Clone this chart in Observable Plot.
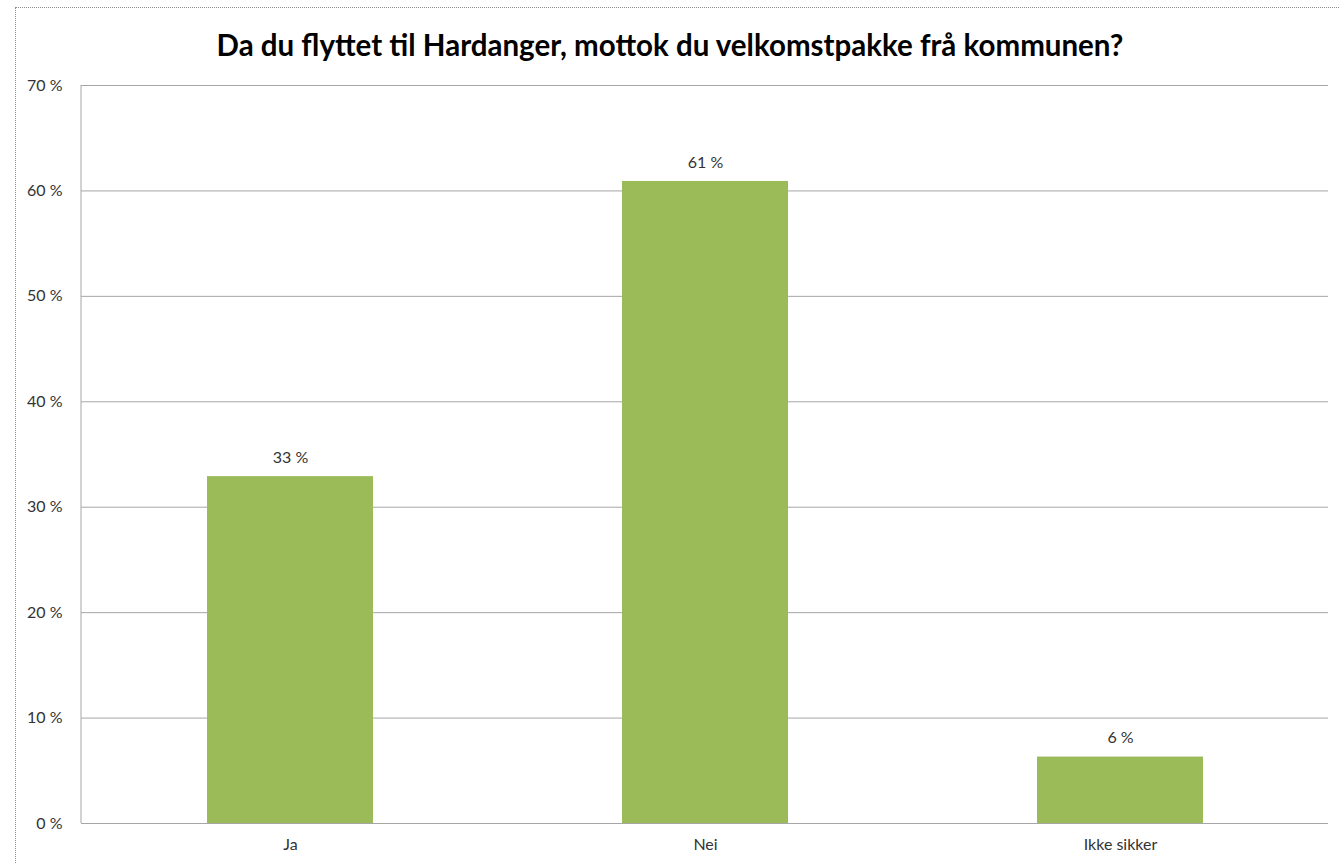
<!DOCTYPE html>
<html>
<head>
<meta charset="utf-8">
<script src="https://cdn.jsdelivr.net/npm/d3@7"></script>
<script src="https://cdn.jsdelivr.net/npm/@observablehq/plot@0.6"></script>
<style>
  html, body { margin: 0; padding: 0; background: #fff; overflow: hidden; }
  #wrap { position: relative; width: 1340px; height: 864px; }
  #frame { position: absolute; left: 15px; top: 7px; width: 1340px; height: 900px; border: 1px dotted #8a8a8a; box-sizing: border-box; }
  #title { position: absolute; left: 0; top: 25px; width: 1340px; text-align: center; font-family: Lato, "Open Sans", sans-serif; font-weight: bold; font-size: 29.5px; color: #000; line-height: 40px; }
  #chart { position: absolute; left: 0; top: 70px; }
</style>
</head>
<body>
<div id="wrap">
  <div id="frame"></div>
  <div id="title">Da du flyttet til Hardanger, mottok du velkomstpakke frå kommunen?</div>
  <div id="chart"></div>
</div>
<script>
const categories = ["Ja", "Nei", "Ikke sikker"];
const values = [32.9, 60.9, 6.3];
const yTicks = [0, 10, 20, 30, 40, 50, 60, 70];

const data = categories.map((c, i) => ({ category: c, value: values[i] }));
const pct = v => `${Math.round(v)} %`;

const plot = Plot.plot({
  width: 1340,
  height: 794,
  marginTop: 15,
  marginBottom: 41,
  marginLeft: 81,
  marginRight: 12,
  style: { fontFamily: "Lato, 'Open Sans', sans-serif", fontSize: "16px", color: "#333", background: "transparent" },
  x: { domain: categories, paddingInner: 0.6, paddingOuter: 0.3, label: null, tickSize: 0, tickPadding: 16 },
  y: { domain: [0, 70], ticks: yTicks, label: null, tickSize: 0, tickPadding: 19, tickFormat: d => `${d} %` },
  marks: [
    Plot.gridY(yTicks, { stroke: "#a6a6a6", strokeOpacity: 1, strokeWidth: 1 }),
    Plot.barY(data, { x: "category", y: "value", fill: "#9BBB59" }),
    Plot.text(data, { x: "category", y: "value", text: d => pct(d.value), dy: -19, fill: "#333", fontSize: 16 }),
    Plot.axisY(yTicks, { tickSize: 0, tickPadding: 19, tickFormat: d => `${d} %`, fill: "#333", fontSize: 16 }),
    Plot.axisX({ tickSize: 0, tickPadding: 15, fill: "#333", fontSize: 16 })
  ]
});
document.getElementById("chart").appendChild(plot);

// left axis line drawn via the plot's own y scale
const svg = d3.select(plot);
const y = plot.scale("y");
svg.append("line")
  .attr("x1", 81).attr("x2", 81)
  .attr("y1", y.apply(70)).attr("y2", y.apply(0))
  .attr("stroke", "#a6a6a6").attr("stroke-width", 1);
</script>
</body>
</html>
